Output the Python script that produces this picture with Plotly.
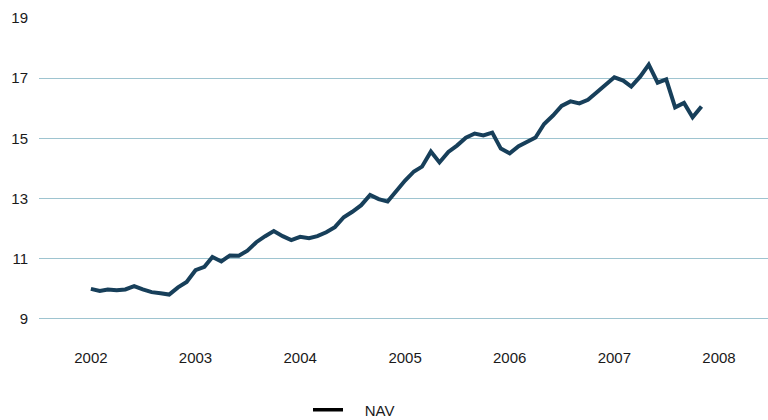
import pandas as pd
import plotly.graph_objects as go

# Monthly NAV, Jan 2002 .. Nov 2007
start_month = "2002-01-01"
nav = [
    10.00, 9.93, 9.98, 9.95, 9.98, 10.09, 9.98, 9.89, 9.85, 9.81, 10.05, 10.23,
    10.62, 10.73, 11.06, 10.91, 11.11, 11.10, 11.27, 11.55, 11.75, 11.92, 11.75, 11.62,
    11.73, 11.68, 11.75, 11.88, 12.05, 12.38, 12.56, 12.78, 13.12, 12.98, 12.90, 13.26,
    13.60, 13.90, 14.06, 14.56, 14.20, 14.55, 14.76, 15.02, 15.16, 15.10, 15.19, 14.66,
    14.50, 14.74, 14.88, 15.03, 15.48, 15.76, 16.08, 16.23, 16.16, 16.28, 16.53, 16.78,
    17.03, 16.92, 16.72, 17.05, 17.45, 16.85, 16.96, 16.03, 16.18, 15.70, 16.06,
]
year_ticks = ["2002", "2003", "2004", "2005", "2006", "2007", "2008"]
y_ticks = [9, 11, 13, 15, 17, 19]
series_name = "NAV"

dates = pd.date_range(start_month, periods=len(nav), freq="MS")
tick_dates = [pd.Timestamp(f"{y}-01-01") for y in year_ticks]

font_family = "Liberation Sans, Arial, sans-serif"
text_color = "#1a1a1a"

fig = go.Figure()
fig.add_trace(go.Scatter(
    x=dates, y=nav, mode="lines", name=series_name, showlegend=False,
    line=dict(color="#173f5a", width=4),
))
# legend entry (drawn black in the reference)
fig.add_trace(go.Scatter(
    x=[None], y=[None], mode="lines", name="\u00a0\u00a0\u00a0\u00a0" + series_name,
    line=dict(color="#000000", width=3.5),
))

fig.update_layout(
    width=768, height=420,
    margin=dict(l=39, r=0, t=18, b=77, autoexpand=False),
    paper_bgcolor="white", plot_bgcolor="white",
    font=dict(family=font_family, size=15, color=text_color),
    showlegend=True,
    legend=dict(
        orientation="h", x=0.369, xanchor="left",
        y=-0.206, yanchor="middle",
        font=dict(size=15, color=text_color),
        bgcolor="rgba(0,0,0,0)",
    ),
    xaxis=dict(
        type="date",
        range=["2001-07-04", "2008-06-20"],
        tickvals=tick_dates, ticktext=year_ticks,
        showgrid=False, zeroline=False, showline=False, ticks="",
        automargin=False,
        ticklabelstandoff=4,
        tickfont=dict(size=15, color=text_color),
    ),
    yaxis=dict(
        range=[8.2, 19],
        tickvals=y_ticks,
        showgrid=True, gridcolor="#9ec4d0", gridwidth=1,
        zeroline=False, showline=False, ticks="",
        automargin=False,
        ticklabelstandoff=10,
        tickfont=dict(size=15, color=text_color),
    ),
)

fig.write_html("out.html", config={"displayModeBar": False},
               post_script="document.body.style.margin='0';")
